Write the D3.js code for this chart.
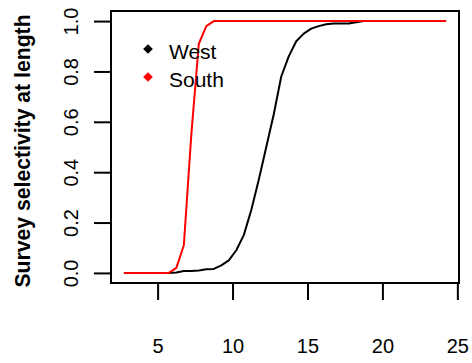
<!DOCTYPE html>
<html><head><meta charset="utf-8">
<script src="https://cdn.jsdelivr.net/npm/d3@7"></script>
<style>body{margin:0;background:#fff}svg{display:block}text{font-family:"Liberation Sans",Arial,sans-serif}</style>
</head><body>
<script>
const lengths = [2.75,3.25,3.75,4.25,4.75,5.25,5.75,6.25,6.75,7.25,7.75,8.25,8.75,9.25,9.75,10.25,10.75,11.25,11.75,12.25,12.75,13.25,13.75,14.25,14.75,15.25,15.75,16.25,16.75,17.25,17.75,18.25,18.75,19.25,19.75,20.25,20.75,21.25,21.75,22.25,22.75,23.25,23.75,24.25];
const west = [0,0,0,0,0,0,0,0.002,0.008,0.008,0.01,0.015,0.016,0.03,0.05,0.09,0.15,0.25,0.37,0.5,0.63,0.78,0.86,0.92,0.95,0.97,0.98,0.987,0.99,0.99,0.99,0.995,1,1,1,1,1,1,1,1,1,1,1,1];
const south = [0,0,0,0,0,0,0,0.02,0.11,0.55,0.91,0.98,1,1,1,1,1,1,1,1,1,1,1,1,1,1,1,1,1,1,1,1,1,1,1,1,1,1,1,1,1,1,1,1];
const xTicks = [5,10,15,20,25];
const yTicks = [0,0.2,0.4,0.6,0.8,1.0];
const seriesNames = ["West","South"];
const seriesColors = ["#000000","#FF0000"];
const yLabel = "Survey selectivity at length";

const W = 472, H = 363;
const L = 111, R = 459, T = 11, B = 283;
const svg = d3.select("body").append("svg").attr("width",W).attr("height",H);

const xr = 24.25-2.75;
const x = d3.scaleLinear().domain([2.75-0.04*xr, 24.25+0.04*xr]).range([L,R]);
const y = d3.scaleLinear().domain([-0.04,1.04]).range([B,T]);

const line = d3.line().x(d=>x(d[0])).y(d=>y(d[1]));
[west, south].forEach((s,i)=>{
  svg.append("path").datum(lengths.map((l,j)=>[l,s[j]]))
    .attr("d",line).attr("fill","none").attr("stroke",seriesColors[i])
    .attr("stroke-width",2).attr("stroke-linejoin","round");
});

// box
svg.append("rect").attr("x",L).attr("y",T).attr("width",R-L).attr("height",B-T)
  .attr("fill","none").attr("stroke","#000").attr("stroke-width",2);

// axes
const xa = svg.append("g").attr("transform",`translate(0,${B})`)
  .call(d3.axisBottom(x).tickValues(xTicks).tickSize(17).tickFormat(d3.format("d")));
xa.select(".domain").remove();
xa.selectAll("line").attr("stroke-width",2);
xa.selectAll("text").attr("font-size",20).attr("fill","#000").attr("dy",null).attr("y",70);

const ya = svg.append("g").attr("transform",`translate(${L},0)`)
  .call(d3.axisLeft(y).tickValues(yTicks).tickSize(17).tickFormat(d3.format(".1f")));
ya.select(".domain").remove();
ya.selectAll("line").attr("stroke-width",2);
ya.selectAll("text").attr("font-size",20).attr("fill","#000")
  .attr("x",null).attr("dy",null).attr("text-anchor","middle")
  .attr("transform","translate(-33,0) rotate(-90)");

svg.append("text").attr("transform",`translate(30,151) rotate(-90)`)
  .attr("text-anchor","middle").attr("font-size",21.2).attr("font-weight","bold").text(yLabel);

// legend
seriesNames.forEach((n,i)=>{
  const cy = 49 + i*28;
  svg.append("path").attr("d",d3.symbol(d3.symbolDiamond2,60)()).attr("transform",`translate(148,${cy})`)
    .attr("fill",seriesColors[i]);
  svg.append("text").attr("x",169).attr("y",cy+10).attr("font-size",21).attr("fill","#000").text(n);
});
</script>
</body></html>
